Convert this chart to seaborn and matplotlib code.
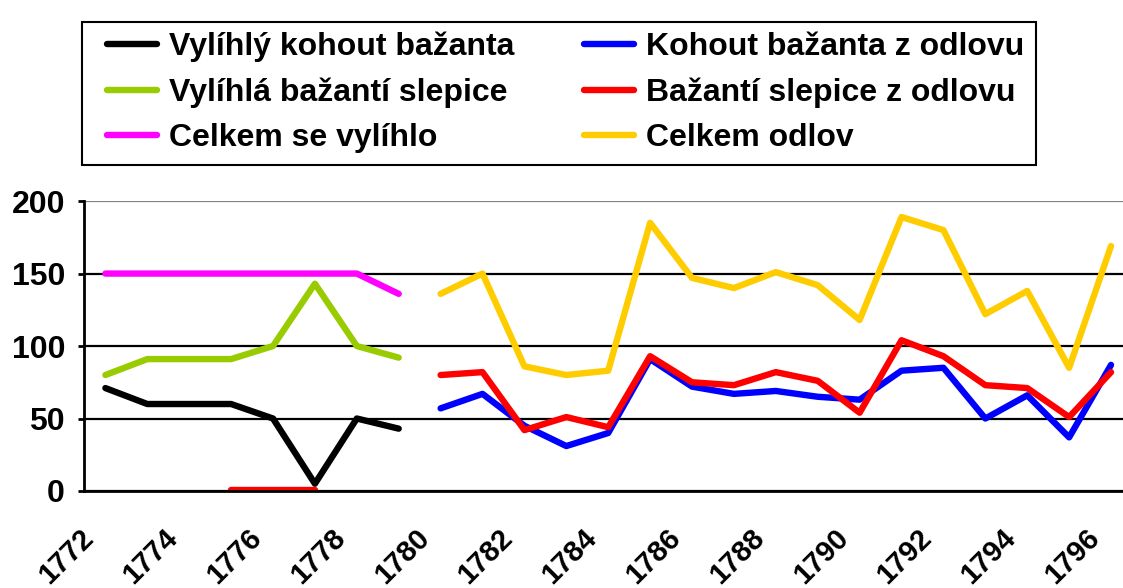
import numpy as np
import pandas as pd
import seaborn as sns
from matplotlib import pyplot as plt
from matplotlib.lines import Line2D
from matplotlib.patches import Rectangle

# roky 1772-1796, hodnoty (None = chybí)
years = list(range(1772, 1797))

vylihly_kohout = [71, 60, 60, 60, 50, 5, 50, 43] + [None] * 17
vylihla_slepice = [80, 91, 91, 91, 100, 143, 100, 92] + [None] * 17
celkem_vylihlo = [150, 150, 150, 150, 150, 150, 150, 136] + [None] * 17
kohout_odlov = [None] * 8 + [57, 67, 45, 31, 40, 91, 72, 67, 69, 65, 63, 83, 85, 50, 66, 37, 87]
slepice_odlov = [None, None, None, 1, 1, 1, None, None] + [80, 82, 42, 51, 44, 93, 75, 73, 82, 76, 54, 104, 93, 73, 71, 51, 82]
celkem_odlov = [None] * 8 + [136, 150, 86, 80, 83, 185, 147, 140, 151, 142, 118, 189, 180, 122, 138, 85, 169]

series = [
    ("Vylíhlý kohout bažanta", vylihly_kohout, "#000000"),
    ("Vylíhlá bažantí slepice", vylihla_slepice, "#99CC00"),
    ("Celkem se vylíhlo", celkem_vylihlo, "#FF00FF"),
    ("Kohout bažanta z odlovu", kohout_odlov, "#0000FF"),
    ("Bažantí slepice z odlovu", slepice_odlov, "#FF0000"),
    ("Celkem odlov", celkem_odlov, "#FFCC00"),
]

# dlouhá tabulka, úseky oddělené mezerou dostanou vlastní "seg"
rows = []
for name, vals, _ in series:
    seg = 0
    prev = None
    for i, v in enumerate(vals):
        if v is None:
            if prev is not None:
                seg += 1
            prev = None
            continue
        rows.append({"idx": i, "value": v, "series": name, "seg": seg})
        prev = v
df = pd.DataFrame(rows)

sns.set_theme(style="white")
plt.rcParams["font.family"] = ["Liberation Sans", "DejaVu Sans"]
plt.rcParams["font.weight"] = "bold"
plt.rcParams["text.color"] = "black"
plt.rcParams["xtick.color"] = "black"
plt.rcParams["ytick.color"] = "black"
plt.rcParams["xtick.labelcolor"] = "black"
plt.rcParams["ytick.labelcolor"] = "black"

fig = plt.figure(figsize=(11.23, 5.88), dpi=100)
ax = fig.add_axes([0.0752, 0.165, 0.9328, 0.493])

palette = {name: c for name, _, c in series}
sns.lineplot(data=df, x="idx", y="value", hue="series", units="seg", estimator=None,
             palette=palette, linewidth=4.6, solid_capstyle="round",
             solid_joinstyle="round", legend=False, ax=ax)

ax.set_xlim(-0.5, 24.5)
ax.set_ylim(0, 200)
ax.set_xlabel("")
ax.set_ylabel("")

ax.set_yticks([0, 50, 100, 150, 200])
ax.set_yticklabels(["0", "50", "100", "150", "200"], fontsize=23, fontweight="bold", color="black")
ax.yaxis.grid(True, color="black", linewidth=1.6)
ax.get_ygridlines()[-1].set_color("#808080")
ax.set_axisbelow(True)

# popisky let posunuté kousek doleva od středu kategorie (jako v Excelu)
ax.set_xticks(np.arange(0, 25, 2) - 0.38)
ax.set_xticklabels([str(y) for y in years[::2]], fontsize=21, fontweight="bold", color="black",
                   rotation=45, ha="right", va="center", rotation_mode="anchor")
ax.set_xticks(np.arange(-0.5, 25, 1), minor=True)
ax.tick_params(axis="x", which="major", length=0, pad=31)
ax.tick_params(axis="x", which="minor", length=8, width=2, direction="out", color="black")
ax.tick_params(axis="y", length=4, width=2, direction="out", color="black", pad=10, left=True)

for side in ["top", "right"]:
    ax.spines[side].set_visible(False)
for side in ["left", "bottom"]:
    ax.spines[side].set_color("black")
    ax.spines[side].set_linewidth(2)

# rámeček legendy zvlášť
fig.patches.append(Rectangle((0.073, 0.7194), 0.8495, 0.2432, transform=fig.transFigure,
                             fill=False, edgecolor="black", linewidth=1.5))

handles = [Line2D([], [], color=c, linewidth=4.6, solid_capstyle="round") for _, _, c in series]
labels = [name for name, _, _ in series]
leg = fig.legend(handles, labels, loc="upper left", bbox_to_anchor=(0.0953, 0.946), ncol=2,
                 frameon=False, fontsize=23,
                 handlelength=1.56, handletextpad=0.37, columnspacing=2.2,
                 labelspacing=0.48, borderpad=0, borderaxespad=0)
for t in leg.get_texts():
    t.set_fontweight("bold")
    t.set_color("black")

fig.savefig("out.png", dpi=100)
